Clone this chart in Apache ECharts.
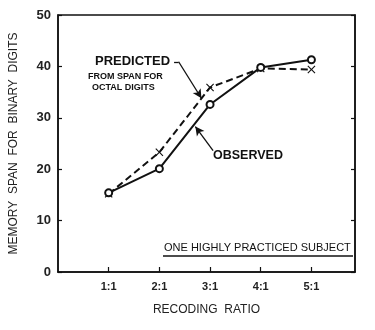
<!DOCTYPE html>
<html><head><meta charset="utf-8">
<script src="https://cdn.jsdelivr.net/npm/echarts@6/dist/echarts.min.js"></script>
<style>html,body{margin:0;padding:0;background:#fff}#c{width:375px;height:330px}</style>
</head><body><div id="c"></div>
<script>
const categories = ['1:1', '2:1', '3:1', '4:1', '5:1'];
const observed = [15.4, 20.1, 32.6, 39.8, 41.3];
const predicted = [15.2, 23.3, 35.9, 39.6, 39.4];
const yTicks = [0, 10, 20, 30, 40, 50];

const FONT = 'Liberation Sans, Arial, sans-serif';
const toPts = arr => arr.map((v, i) => [i + 1, v]);
const xMark = 'path://M0,1 L1,0 L5,4 L9,0 L10,1 L6,5 L10,9 L9,10 L5,6 L1,10 L0,9 L4,5 Z';

const chart = echarts.init(document.getElementById('c'), null, {renderer: 'canvas'});
chart.setOption({
  animation: false,
  backgroundColor: '#fff',
  grid: {left: 57, right: 20, top: 15, bottom: 58, show: true, borderColor: '#111', borderWidth: 1.5},
  xAxis: {
    type: 'value', min: 0, max: 5.86, interval: 1,
    name: 'RECODING  RATIO', nameLocation: 'middle', nameGap: 32,
    nameTextStyle: {fontFamily: FONT, fontSize: 12, color: '#222'},
    axisLine: {lineStyle: {color: '#111', width: 1.5}},
    axisTick: {inside: true, length: 5, lineStyle: {color: '#111', width: 1.2}},
    axisLabel: {fontFamily: FONT, fontSize: 11, fontWeight: 'bold', color: '#222', margin: 9,
      showMinLabel: false, showMaxLabel: false,
      formatter: v => categories[Math.round(v) - 1] || ''},
    splitLine: {show: false}
  },
  yAxis: [{
    type: 'value', min: 0, max: 50, interval: 10,
    name: 'MEMORY  SPAN  FOR  BINARY  DIGITS', nameLocation: 'middle', nameGap: 38, nameRotate: 90,
    nameTextStyle: {fontFamily: FONT, fontSize: 12, color: '#222'},
    axisLine: {lineStyle: {color: '#111', width: 1.5}},
    axisTick: {inside: true, length: 4, lineStyle: {color: '#111', width: 1.2}},
    axisLabel: {fontFamily: FONT, fontSize: 13, fontWeight: 'bold', color: '#222', margin: 7,
      formatter: v => yTicks.includes(v) ? String(v) : ''},
    splitLine: {show: false}
  }, {
    type: 'value', min: 0, max: 50, interval: 10, position: 'right',
    axisLine: {show: true, lineStyle: {color: '#111', width: 1.5}},
    axisTick: {inside: true, length: 4, lineStyle: {color: '#111', width: 1.2}},
    axisLabel: {show: false}, splitLine: {show: false}
  }],
  series: [{
    name: 'PREDICTED', type: 'line', data: toPts(predicted),
    symbol: xMark, symbolSize: 8, showSymbol: true, z: 2,
    lineStyle: {color: '#111', width: 2, type: [7, 4]},
    itemStyle: {color: '#111'}
  }, {
    name: 'OBSERVED', type: 'line', data: toPts(observed),
    symbol: 'emptyCircle', symbolSize: 7, showSymbol: true, z: 3,
    lineStyle: {color: '#111', width: 2},
    itemStyle: {color: '#111', borderWidth: 1.5},
    markLine: {
      silent: true, symbol: ['none', 'arrow'], symbolSize: [7, 9], label: {show: false},
      lineStyle: {color: '#111', width: 1.3, type: 'solid'},
      data: [
        [{coord: [3.06, 23.6]}, {coord: [2.71, 28.3]}],
        [{coord: [2.29, 40.9], symbol: 'none'}, {coord: [2.38, 40.9], symbol: 'none'}],
        [{coord: [2.38, 40.9]}, {coord: [2.83, 33.8]}]
      ]
    }
  }],
  graphic: [
    {type: 'text', left: 95, top: 55, style: {text: 'PREDICTED', font: 'bold 13px ' + FONT, fill: '#111'}},
    {type: 'text', left: 88, top: 72, style: {text: 'FROM SPAN FOR', font: 'bold 9px ' + FONT, fill: '#111'}},
    {type: 'text', left: 92, top: 83, style: {text: 'OCTAL DIGITS', font: 'bold 9px ' + FONT, fill: '#111'}},
    {type: 'text', left: 213, top: 149, style: {text: 'OBSERVED', font: 'bold 12.5px ' + FONT, fill: '#111'}},
    {type: 'text', left: 164, top: 242, style: {text: 'ONE HIGHLY PRACTICED SUBJECT', font: '11px ' + FONT, fill: '#111'}},
    {type: 'line', shape: {x1: 163, y1: 256, x2: 353, y2: 256}, style: {stroke: '#111', lineWidth: 1.5}}
  ]
});
</script></body></html>
